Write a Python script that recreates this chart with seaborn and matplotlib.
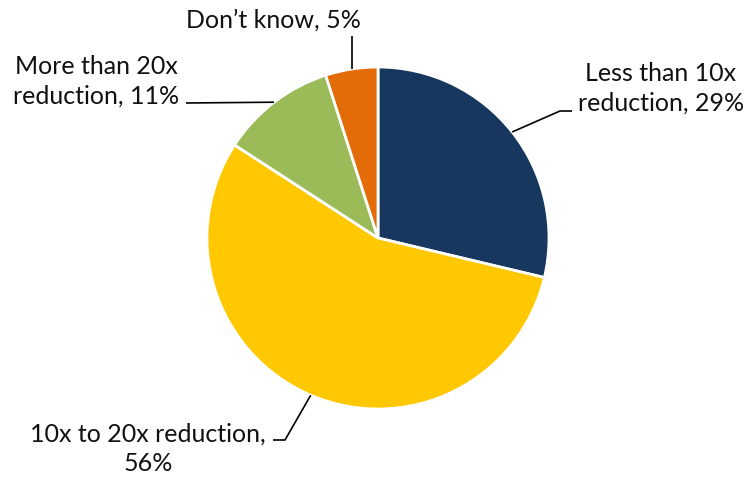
import numpy as np
import matplotlib
matplotlib.use("Agg")
import matplotlib.pyplot as plt
import seaborn as sns

sns.set_theme(style="white")
plt.rcParams['font.family'] = ['Lato', 'DejaVu Sans']

categories = ["Less than 10x reduction", "10x to 20x reduction",
              "More than 20x reduction", "Don\u2019t know"]
labels = ["Less than 10x\nreduction, 29%", "10x to 20x reduction,\n56%",
          "More than 20x\nreduction, 11%", "Don\u2019t know, 5%"]
values = [29, 56, 11, 5]
colors = ["#17375E", "#FFC800", "#9BBB59", "#E36C09"]

W, H = 749, 478
fig = plt.figure(figsize=(W / 100, H / 100), dpi=100)
ax = fig.add_axes([0, 0, 1, 1])

cx, cy, r = 378, H - 238, 171
wedges, _ = ax.pie(values, colors=colors, startangle=90, counterclock=False,
                   center=(cx, cy), radius=r, frame=True,
                   wedgeprops=dict(edgecolor='white', linewidth=2))
ax.set_xlim(0, W)
ax.set_ylim(0, H)
ax.set_aspect('equal')
ax.axis('off')

# layout: label centre (px from top-left), elbow points (px)
layout = [
    dict(text=(661, 88), path=[(560, 111), (572, 111)]),
    dict(text=(148, 449), path=[(285, 440), (273, 440)]),
    dict(text=(96, 81), path=[(186, 103)]),
    dict(text=(273, 20), path=[(None, 36)]),
]

for w, lab, lay in zip(wedges, labels, layout):
    ang = np.deg2rad((w.theta1 + w.theta2) / 2)
    ax_ = cx + r * np.cos(ang)
    ay_ = cy + r * np.sin(ang)
    xs, ys = [ax_], [ay_]
    for px, py in lay['path']:
        xs.append(ax_ if px is None else px)
        ys.append(H - py)
    ax.plot(xs, ys, color='black', lw=1.2, solid_capstyle='butt')
    tx, ty = lay['text']
    ax.text(tx, H - ty, lab, ha='center', va='center', multialignment='center',
            fontsize=18, color='#111111', linespacing=1.35)

fig.savefig("out.png", dpi=100, facecolor='white')
